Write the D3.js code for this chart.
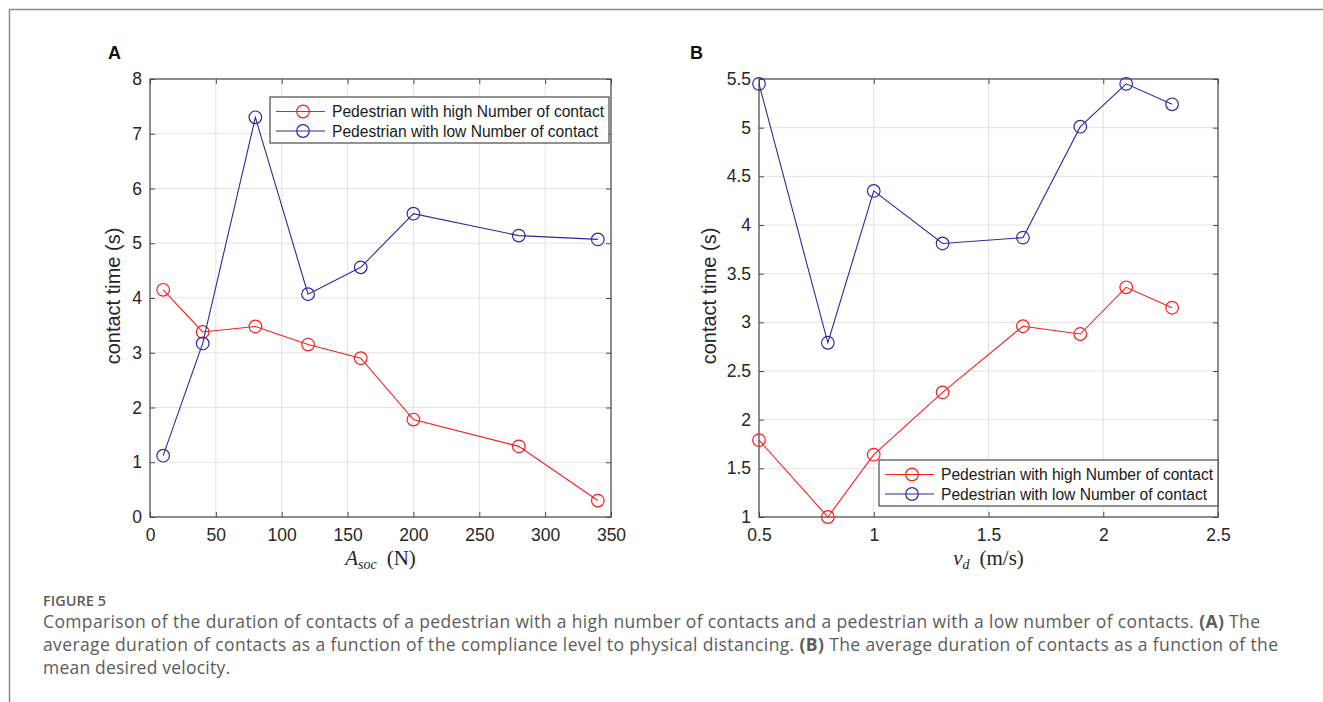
<!DOCTYPE html>
<html>
<head>
<meta charset="utf-8">
<script src="https://cdn.jsdelivr.net/npm/d3@7"></script>
<style>
  body { margin: 0; background: #fff; }
  svg { display: block; }
  .tick text { font-family: "Liberation Sans", Arial, sans-serif; font-size: 17.5px; fill: #262626; }
  .caption { font-family: "Open Sans", Lato, sans-serif; fill: #5c5c5c; }
</style>
</head>
<body>
<svg id="fig" width="1323" height="702"></svg>
<script>
const svg = d3.select("#fig")

// panel A: contact time vs A_soc
const aSoc = [10, 40, 80, 120, 160, 200, 280, 340]
const aHigh = [4.15, 3.38, 3.48, 3.15, 2.9, 1.78, 1.29, 0.3]
const aLow = [1.12, 3.17, 7.3, 4.07, 4.56, 5.54, 5.14, 5.07]
const aXTicks = [0, 50, 100, 150, 200, 250, 300, 350]
const aYTicks = [0, 1, 2, 3, 4, 5, 6, 7, 8]

// panel B: contact time vs v_d
const vD = [0.5, 0.8, 1.0, 1.3, 1.65, 1.9, 2.1, 2.3]
const bHigh = [1.79, 1.0, 1.64, 2.28, 2.96, 2.88, 3.36, 3.15]
const bLow = [5.45, 2.79, 4.35, 3.81, 3.87, 5.01, 5.45, 5.24]
const bXTicks = [0.5, 1, 1.5, 2, 2.5]
const bYTicks = [1, 1.5, 2, 2.5, 3, 3.5, 4, 4.5, 5, 5.5]

const seriesNames = ["Pedestrian with high Number of contact", "Pedestrian with low Number of contact"]
const RED = "#ff1a1a"
const BLUE = "#2a2a9e"
const AXIS = "#4a4a4a"

// outer frame (only top and left visible)
svg.append("line").attr("x1", 9).attr("y1", 9.5).attr("x2", 1323).attr("y2", 9.5).attr("stroke", "#8a8a8a").attr("stroke-width", 1.5)
svg.append("line").attr("x1", 9.5).attr("y1", 9).attr("x2", 9.5).attr("y2", 702).attr("stroke", "#8a8a8a").attr("stroke-width", 1.5)

function drawPanel(p) {
  const x = d3.scaleLinear().domain(p.xDomain).range([p.left, p.right])
  const y = d3.scaleLinear().domain(p.yDomain).range([p.bottom, p.top])
  const g = svg.append("g")

  // grid
  g.selectAll(".gx").data(p.xTicks).enter().append("line")
    .attr("x1", (d) => x(d)).attr("x2", (d) => x(d))
    .attr("y1", p.top).attr("y2", p.bottom)
    .attr("stroke", "#e3e3e3")
  g.selectAll(".gy").data(p.yTicks).enter().append("line")
    .attr("y1", (d) => y(d)).attr("y2", (d) => y(d))
    .attr("x1", p.left).attr("x2", p.right)
    .attr("stroke", "#e3e3e3")

  // axes, ticks inward
  const fmt = (d) => d3.format("")(d)
  const ax = (a, pad) => a.tickSizeInner(-5).tickSizeOuter(0).tickPadding(pad)
  g.append("g").attr("transform", `translate(0,${p.bottom})`).call(ax(d3.axisBottom(x).tickValues(p.xTicks).tickFormat(fmt), 12))
  g.append("g").attr("transform", `translate(0,${p.top})`).call(ax(d3.axisTop(x).tickValues(p.xTicks).tickFormat(""), 8))
  g.append("g").attr("transform", `translate(${p.left},0)`).call(ax(d3.axisLeft(y).tickValues(p.yTicks).tickFormat(fmt), 8))
  g.append("g").attr("transform", `translate(${p.right},0)`).call(ax(d3.axisRight(y).tickValues(p.yTicks).tickFormat(""), 8))
  g.selectAll(".domain").remove()
  g.selectAll(".tick line").attr("stroke", AXIS)
  g.append("rect").attr("x", p.left).attr("y", p.top).attr("width", p.right - p.left).attr("height", p.bottom - p.top)
    .attr("fill", "none").attr("stroke", AXIS).attr("stroke-width", 1.2)

  // series
  const line = d3.line().x((d) => x(d[0])).y((d) => y(d[1]))
  p.series.forEach((s) => {
    const pts = p.xs.map((v, i) => [v, s.values[i]])
    g.append("path").datum(pts).attr("d", line).attr("fill", "none").attr("stroke", s.color).attr("stroke-width", 1.1)
    g.selectAll(null).data(pts).enter().append("circle")
      .attr("cx", (d) => x(d[0])).attr("cy", (d) => y(d[1])).attr("r", 6.3)
      .attr("fill", "none").attr("stroke", s.color).attr("stroke-width", 1.2)
  })

  // legend
  const lg = g.append("g").attr("transform", `translate(${p.legend.x},${p.legend.y})`)
  lg.append("rect").attr("width", 339).attr("height", 46)
    .attr("fill", "#fff").attr("stroke", AXIS).attr("stroke-width", 1.2)
  p.series.forEach((s, i) => {
    const ly = 14.5 + i * 19.5
    lg.append("line").attr("x1", 6).attr("x2", 55).attr("y1", ly).attr("y2", ly).attr("stroke", s.color).attr("stroke-width", 1.1)
    lg.append("circle").attr("cx", 33).attr("cy", ly).attr("r", 6.3).attr("fill", "none").attr("stroke", s.color).attr("stroke-width", 1.2)
    lg.append("text").attr("x", 62).attr("y", ly + 5.5)
      .attr("font-family", "Liberation Sans, Arial, sans-serif").attr("font-size", 15.6).attr("fill", "#1a1a1a")
      .text(s.name)
  })

  // panel letter
  svg.append("text").attr("x", p.letterX).attr("y", 59).attr("font-family", "Liberation Sans, Arial, sans-serif")
    .attr("font-weight", "bold").attr("font-size", 18).attr("fill", "#111").text(p.letter)

  // y title
  svg.append("text").attr("transform", `translate(${p.yTitleX},${(p.top + p.bottom) / 2 - 2}) rotate(-90)`)
    .attr("text-anchor", "middle").attr("font-family", "Liberation Sans, Arial, sans-serif")
    .attr("font-size", 20).attr("fill", "#262626").text("contact time (s)")

  // x title (math style)
  const xt = svg.append("text").attr("x", (p.left + p.right) / 2).attr("y", 565).attr("text-anchor", "middle")
    .attr("font-family", "Liberation Serif, DejaVu Serif, serif").attr("font-size", 21).attr("fill", "#262626")
  xt.append("tspan").attr("font-style", "italic").text(p.xMain)
  xt.append("tspan").attr("font-style", "italic").attr("font-size", 14).attr("dy", 4).text(p.xSub)
  xt.append("tspan").attr("dy", -4).attr("dx", 10).text(p.xUnit)
}

drawPanel({
  letter: "A", letterX: 108, yTitleX: 120,
  left: 150, right: 611, top: 79, bottom: 517,
  xDomain: [0, 350], yDomain: [0, 8], xTicks: aXTicks, yTicks: aYTicks,
  xs: aSoc,
  series: [{ name: seriesNames[0], values: aHigh, color: RED }, { name: seriesNames[1], values: aLow, color: BLUE }],
  legend: { x: 270, y: 97 },
  xMain: "A", xSub: "soc", xUnit: "(N)"
})

drawPanel({
  letter: "B", letterX: 690, yTitleX: 716,
  left: 759, right: 1218, top: 79, bottom: 517,
  xDomain: [0.5, 2.5], yDomain: [1, 5.5], xTicks: bXTicks, yTicks: bYTicks,
  xs: vD,
  series: [{ name: seriesNames[0], values: bHigh, color: RED }, { name: seriesNames[1], values: bLow, color: BLUE }],
  legend: { x: 879, y: 460 },
  xMain: "v", xSub: "d", xUnit: "(m/s)"
})

// caption
svg.append("text").attr("class", "caption").attr("x", 43).attr("y", 606).attr("font-size", 14)
  .attr("font-weight", 600).attr("fill", "#555").attr("textLength", 63).attr("lengthAdjust", "spacingAndGlyphs").text("FIGURE 5")
const capLines = [
  [["Comparison of the duration of contacts of a pedestrian with a high number of contacts and a pedestrian with a low number of contacts. ", false], ["(A)", true], [" The", false]],
  [["average duration of contacts as a function of the compliance level to physical distancing. ", false], ["(B)", true], [" The average duration of contacts as a function of the", false]],
  [["mean desired velocity.", false]]
]
const capWidths = [1217, 1235, 187]
capLines.forEach((segs, i) => {
  const t = svg.append("text").attr("class", "caption").attr("x", 43).attr("y", 628 + i * 23)
    .attr("font-size", 17.5)
    .attr("textLength", capWidths[i]).attr("lengthAdjust", "spacing")
  segs.forEach((s) => t.append("tspan").attr("font-weight", s[1] ? 700 : 400).text(s[0]))
})
</script>
</body>
</html>
